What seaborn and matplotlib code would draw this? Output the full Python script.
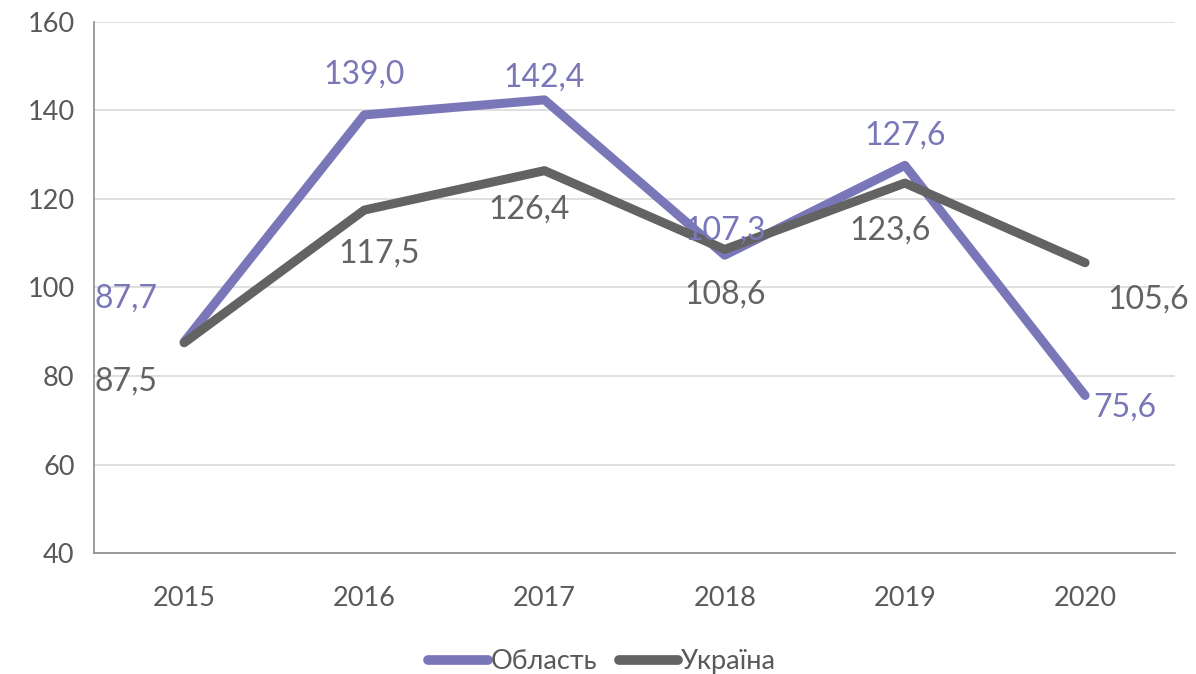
import matplotlib
matplotlib.use('Agg')
import matplotlib.pyplot as plt
import numpy as np
import pandas as pd
import seaborn as sns

years = ['2015', '2016', '2017', '2018', '2019', '2020']
oblast = [87.7, 139.0, 142.4, 107.3, 127.6, 75.6]
ukraine = [87.5, 117.5, 126.4, 108.6, 123.6, 105.6]
series_names = ['Область', 'Україна']

# label offsets in pixels (dx, dy) per point
oblast_off = [(-58, 43), (0, 40), (0, 22), (0, 25), (0, 30), (40, -12)]
ukraine_off = [(-58, -39), (15, -43), (-15, -39), (0, -45), (-15, -47), (63, -37)]

colors = {'Область': '#7A77B9', 'Україна': '#636363'}

df = pd.DataFrame({
    'year': years * 2,
    'value': oblast + ukraine,
    'series': [series_names[0]] * len(years) + [series_names[1]] * len(years),
})

sns.set_style('white')
plt.rcParams['font.family'] = ['Lato', 'DejaVu Sans']

fig = plt.figure(figsize=(11.96, 6.74), dpi=100)
ax = fig.add_axes([0.0786, 0.1795, 0.904, 0.7879])

sns.lineplot(data=df, x='year', y='value', hue='series', palette=colors,
             linewidth=6.5, ax=ax, sort=False)
for line in ax.get_lines():
    line.set_solid_capstyle('round')
    line.set_solid_joinstyle('round')

for vals, offs, name in [(oblast, oblast_off, 'Область'), (ukraine, ukraine_off, 'Україна')]:
    for i, (v, o) in enumerate(zip(vals, offs)):
        ax.annotate(f'{v:.1f}'.replace('.', ','), (i, v), xytext=o,
                    textcoords='offset pixels', ha='center', va='center',
                    fontsize=23, color=colors[name])

ax.set_xlim(-0.5, 5.5)
ax.set_ylim(40, 160)
ax.set_yticks(range(40, 161, 20))
ax.yaxis.grid(True, color='#D9D9D9', linewidth=1.2)
ax.xaxis.grid(False)
ax.tick_params(axis='both', length=0, labelsize=19.5, labelcolor='#595959')
ax.tick_params(axis='x', pad=24)
ax.tick_params(axis='y', pad=14)
ax.set_xlabel('')
ax.set_ylabel('')
for s in ['top', 'right']:
    ax.spines[s].set_visible(False)
for s in ['left', 'bottom']:
    ax.spines[s].set_color('#8C8C8C')
    ax.spines[s].set_linewidth(1.2)

handles, labels = ax.get_legend_handles_labels()
for h in handles:
    h.set_linewidth(7)
    h.set_solid_capstyle('round')
ax.legend(handles, labels, loc='upper center', bbox_to_anchor=(0.47, -0.135),
          ncol=2, frameon=False, fontsize=19.5, handlelength=2.2,
          handletextpad=0.1, columnspacing=0.8, labelcolor='#595959')

fig.savefig('out.png', dpi=100)
